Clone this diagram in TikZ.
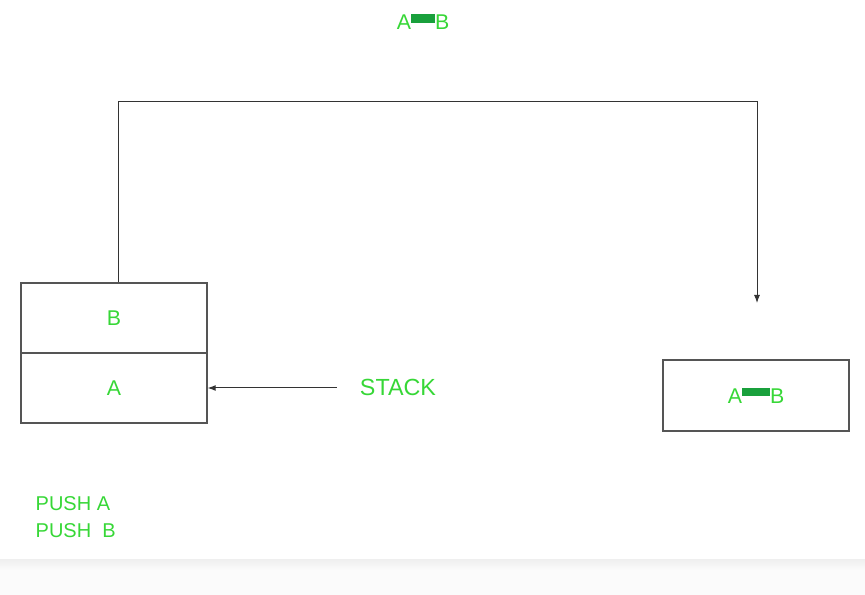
\documentclass[tikz,border=0pt]{standalone}
\usepackage{fontspec}
\setmainfont{Liberation Sans}
\usetikzlibrary{arrows.meta}
\definecolor{textgreen}{RGB}{55,215,55}
\definecolor{bargreen}{RGB}{25,160,60}
\definecolor{linegray}{RGB}{85,85,85}
\newcommand{\abjoin}[1]{A\textcolor{bargreen}{\rule[5pt]{#1}{6.5pt}}B}
\tikzset{
  label text/.style={text=textgreen,font=\fontsize{16}{20.25}\selectfont},
  cell/.style={draw=linegray,line width=1.1pt,minimum width=139.5pt,minimum height=52.5pt,
    inner sep=0pt,label text},
  arr/.style={draw=black!80,line width=0.75pt,-{Latex[length=6pt,width=4.5pt]}}
}
\begin{document}
\begin{tikzpicture}[x=0.75pt,y=-0.75pt]
  \useasboundingbox (0,0) rectangle (865,595);
  \fill[black!1.5] (0,561) rectangle (865,595);
  \shade[top color=black!6,bottom color=black!1.5] (0,560) rectangle (865,570);
  \draw
    (423,22) node[label text] (result){\abjoin{18pt}}
    (114,318) node[cell] (cellB){B}
    (114,388) node[cell] (cellA){A}
    (756,395.5) node[cell,minimum height=53.25pt] (output){\abjoin{21pt}}
    (398,387) node[label text,font=\fontsize{17.5}{21}\selectfont] (stack){STACK}
    (31,517) node[label text,anchor=west,align=left,font=\fontsize{15}{20.25}\selectfont] (pushes){PUSH A\\PUSH~~B};
  \coordinate (corner) at (757,102);
  \coordinate (drop) at (757,303);
  \begin{scope}[arr]
    \draw ([xshift=3]cellB.north) |- (corner) -- (drop);
    \draw[shorten <=14] (stack.west |- cellA.east) -- (cellA.east);
  \end{scope}
\end{tikzpicture}
\end{document}
